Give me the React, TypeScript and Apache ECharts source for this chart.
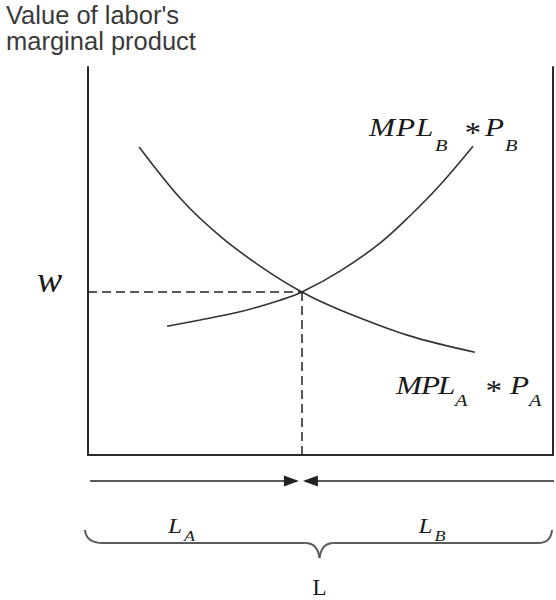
import { useEffect, useRef } from "react";
import * as echarts from "echarts";

// Labor quantity axis (total labor split between sectors A and B)
const laborMin = 0;
const laborMax = 100;
const valueMin = 0;
const valueMax = 100;

// MPL_A * P_A : value of marginal product of labor in sector A (measured left to right)
const mplAx = [11.0, 20.2, 28.4, 37.0, 46.0, 54.2, 69.2, 83.2];
const mplAy = [79.4, 65.7, 56.4, 48.7, 42.0, 37.4, 30.7, 26.5];

// MPL_B * P_B : value of marginal product of labor in sector B
const mplBx = [17.0, 24.1, 32.7, 41.3, 46.0, 54.2, 62.8, 69.2, 75.7, 82.8];
const mplBy = [33.2, 34.8, 36.9, 39.9, 42.0, 47.4, 54.6, 61.6, 69.6, 79.6];

// Equilibrium
const wage = 42;
const laborSplit = 46;

const titleLines = ["Value of labor's", "marginal product"];

const SERIF = "'Liberation Serif', 'Times New Roman', serif";
const SANS = "'Liberation Sans', Arial, sans-serif";
const INK = "#1a1a1a";

export default function App() {
  const ref = useRef<HTMLDivElement | null>(null);

  useEffect(() => {
    const chart = echarts.init(ref.current!, null, { renderer: "svg" });
    const axisLine = { show: true, onZero: false, lineStyle: { color: "#2a2a2a", width: 2 } };
    const hidden = {
      axisTick: { show: false },
      axisLabel: { show: false },
      splitLine: { show: false },
    };
    chart.setOption({
      animation: false,
      grid: { left: 88, right: 3, top: 67, bottom: 145 },
      xAxis: { type: "value", min: laborMin, max: laborMax, axisLine, ...hidden },
      yAxis: [
        { type: "value", min: valueMin, max: valueMax, position: "left", axisLine, ...hidden },
        { type: "value", min: valueMin, max: valueMax, position: "right", axisLine, ...hidden },
      ],
      series: [
        {
          type: "line",
          name: "MPLA",
          data: mplAx.map((x, i) => [x, mplAy[i]]),
          smooth: 0.35,
          showSymbol: false,
          silent: true,
          lineStyle: { color: "#333", width: 1.6 },
          markLine: {
            silent: true,
            symbol: "none",
            label: { show: false },
            lineStyle: { color: "#222", width: 1.5, type: [9, 5] },
            data: [
              [{ coord: [laborMin, wage] }, { coord: [laborSplit, wage] }],
              [{ coord: [laborSplit, wage] }, { coord: [laborSplit, valueMin] }],
            ],
          },
        },
        {
          type: "line",
          name: "MPLB",
          data: mplBx.map((x, i) => [x, mplBy[i]]),
          smooth: 0.35,
          showSymbol: false,
          silent: true,
          lineStyle: { color: "#333", width: 1.6 },
        },
      ],
    });

    const px = (x: number, y: number) =>
      chart.convertToPixel({ seriesIndex: 0 }, [x, y]) as number[];
    const [xL, y0] = px(laborMin, valueMin);
    const xR = px(laborMax, valueMin)[0];
    const xS = px(laborSplit, valueMin)[0];
    const xM = px((laborMin + laborMax) / 2, valueMin)[0];
    const yW = px(laborMin, wage)[1];
    const endA = px(mplAx[mplAx.length - 1], mplAy[mplAy.length - 1]);
    const endB = px(mplBx[mplBx.length - 1], mplBy[mplBy.length - 1]);

    const txt = (
      text: string,
      x: number,
      y: number,
      size: number,
      opts: { italic?: boolean; sx?: number; align?: string; family?: string; fill?: string } = {}
    ) => ({
      type: "text",
      x,
      y,
      scaleX: opts.sx ?? 1.2,
      silent: true,
      style: {
        text,
        fontFamily: opts.family ?? SERIF,
        fontStyle: opts.italic === false ? "normal" : "italic",
        fontSize: size,
        fill: opts.fill ?? INK,
        align: opts.align ?? "left",
        verticalAlign: "middle",
      },
    });

    // Curve label: M P L_sub * P_sub
    const mplLabel = (ax: number, ay: number, sub: string, offs: number[], subDy: number) => {
      const subY = ay + subDy;
      return [
        txt("M", ax + offs[0], ay, 26),
        txt("P", ax + offs[1], ay, 26),
        txt("L", ax + offs[2], ay, 26),
        txt(sub, ax + offs[3], subY, 17),
        txt("*", ax + offs[4], ay + 5, 30, { sx: 1.1 }),
        txt("P", ax + offs[5], ay, 26),
        txt(sub, ax + offs[6], subY, 17),
      ];
    };

    const ay = y0 + 26;
    const by = y0 + 88;
    const bEnd = y0 + 75;
    const bTip = y0 + 103;
    const ink = { stroke: "#222", lineWidth: 1.5 };
    const brace = { stroke: "#5a5a5a", lineWidth: 2, fill: "none" };

    const graphic: any[] = [
      // title
      {
        type: "text",
        x: 6,
        y: 2,
        silent: true,
        style: {
          text: titleLines.join("\n"),
          fontFamily: SANS,
          fontSize: 25.5,
          lineHeight: 26,
          fill: "#3a3a3a",
          align: "left",
          verticalAlign: "top",
        },
      },
      // w
      txt("w", xL - 38.5, yW - 12, 36, { sx: 1.05, align: "center" }),
      // curve labels
      ...mplLabel(endB[0] - 104, endB[1] - 19.5, "B", [0, 27, 47, 66, 94, 116, 136], 18),
      ...mplLabel(endA[0] - 79, endA[1] + 32.5, "A", [0, 25, 42, 59, 88, 114, 133], 15),
      // arrows
      { type: "line", silent: true, shape: { x1: xL + 2, y1: ay, x2: xS - 12, y2: ay }, style: ink },
      {
        type: "polygon",
        silent: true,
        shape: { points: [[xS - 3, ay], [xS - 18, ay - 5.5], [xS - 18, ay + 5.5]] },
        style: { fill: "#222" },
      },
      { type: "line", silent: true, shape: { x1: xR + 1, y1: ay, x2: xS + 12, y2: ay }, style: ink },
      {
        type: "polygon",
        silent: true,
        shape: { points: [[xS + 1, ay], [xS + 16, ay - 5.5], [xS + 16, ay + 5.5]] },
        style: { fill: "#222" },
      },
      // brace
      {
        type: "bezierCurve",
        silent: true,
        shape: { x1: xL - 3, y1: bEnd, cpx1: xL - 2, cpy1: by, x2: xL + 15, y2: by },
        style: brace,
      },
      { type: "line", silent: true, shape: { x1: xL + 15, y1: by, x2: xM - 15, y2: by }, style: brace },
      {
        type: "bezierCurve",
        silent: true,
        shape: { x1: xM - 15, y1: by, cpx1: xM - 3, cpy1: by, x2: xM - 1, y2: bTip },
        style: brace,
      },
      {
        type: "bezierCurve",
        silent: true,
        shape: { x1: xM - 1, y1: bTip, cpx1: xM + 1, cpy1: by, x2: xM + 13, y2: by },
        style: brace,
      },
      { type: "line", silent: true, shape: { x1: xM + 13, y1: by, x2: xR - 15, y2: by }, style: brace },
      {
        type: "bezierCurve",
        silent: true,
        shape: { x1: xR - 15, y1: by, cpx1: xR - 2, cpy1: by, x2: xR - 1, y2: bEnd },
        style: brace,
      },
      // L_A, L_B, L
      txt("L", (xL + xS) / 2 - 27, y0 + 71, 21),
      txt("A", (xL + xS) / 2 - 11, y0 + 81, 15),
      txt("L", (xS + xR) / 2 - 9, y0 + 71, 21),
      txt("B", (xS + xR) / 2 + 7, y0 + 81, 15),
      txt("L", xM - 1, y0 + 132, 23, { italic: false, sx: 1, align: "center" }),
    ];
    chart.setOption({ graphic });

    return () => chart.dispose();
  }, []);

  return (
    <div
      ref={ref}
      style={{ position: "fixed", left: 0, top: 0, width: 556, height: 600, background: "#fff" }}
    />
  );
}
